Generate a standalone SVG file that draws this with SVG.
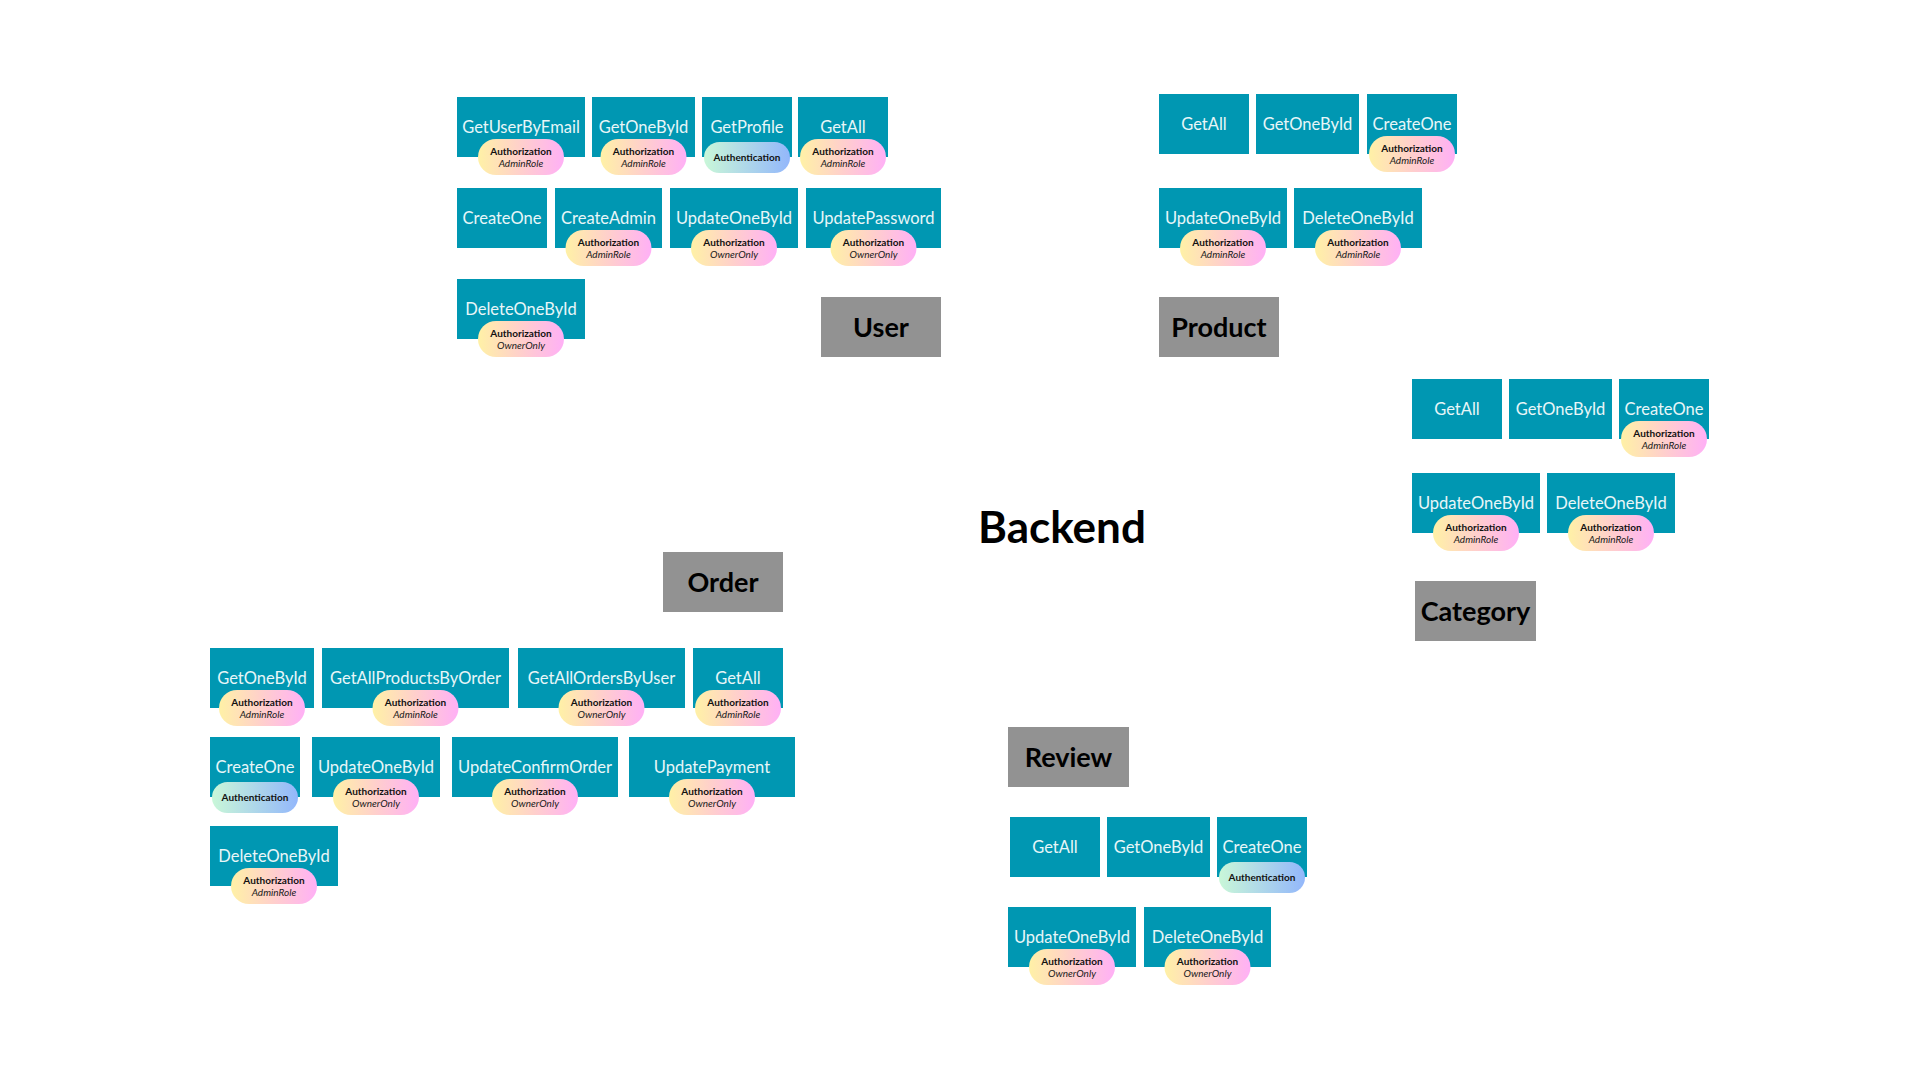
<svg xmlns="http://www.w3.org/2000/svg" width="1920" height="1080" viewBox="0 0 1920 1080">
<defs>
<linearGradient id="gz" x1="0" y1="0" x2="1" y2="0"><stop offset="0" stop-color="#fff1a6"/><stop offset="0.5" stop-color="#ffcfcc"/><stop offset="1" stop-color="#ffb0f6"/></linearGradient>
<linearGradient id="gn" x1="0" y1="0" x2="1" y2="0"><stop offset="0" stop-color="#c9f7d8"/><stop offset="1" stop-color="#93b7fb"/></linearGradient>
<style>
.ep{fill:#0097b2}
.et{font-family:Lato,"Liberation Sans",sans-serif;font-size:16.5px;fill:#e8f6f8;text-anchor:middle}
.lb{fill:#929292}
.lt{font-family:Lato,"Liberation Sans",sans-serif;font-size:27px;font-weight:bold;fill:#000;text-anchor:middle}
.pz{fill:url(#gz)}
.pn{fill:url(#gn)}
.p1{font-family:Lato,"Liberation Sans",sans-serif;font-size:10px;font-weight:bold;fill:#111;text-anchor:middle}
.p2{font-family:Lato,"Liberation Sans",sans-serif;font-size:10px;font-style:italic;fill:#1a1a1a;text-anchor:middle}
.bk{font-family:Lato,"Liberation Sans",sans-serif;font-size:44px;font-weight:bold;fill:#000;text-anchor:middle}
</style>
</defs>
<rect width="1920" height="1080" fill="#fff"/>
<g id="connectors"/>
<g id="backend"><text class="bk" x="1062" y="543">Backend</text></g>

<!-- USER -->
<g id="user"><rect class="lb" x="821" y="297" width="120" height="60"/><text class="lt" x="881" y="337">User</text></g>
<g id="user-getuserbyemail"><rect class="ep" x="457" y="97" width="128" height="60"/><text class="et" x="521" y="133">GetUserByEmail</text><rect class="pz" x="478" y="139" width="86" height="36" rx="18"/><text class="p1" x="521" y="154.5">Authorization</text><text class="p2" x="521" y="166.5">AdminRole</text></g>
<g id="user-getonebyid"><rect class="ep" x="592" y="97" width="103" height="60"/><text class="et" x="643.5" y="133">GetOneById</text><rect class="pz" x="600.5" y="139" width="86" height="36" rx="18"/><text class="p1" x="643.5" y="154.5">Authorization</text><text class="p2" x="643.5" y="166.5">AdminRole</text></g>
<g id="user-getprofile"><rect class="ep" x="702" y="97" width="90" height="60"/><text class="et" x="747" y="133">GetProfile</text><rect class="pn" x="704" y="142" width="86" height="31" rx="15.5"/><text class="p1" x="747" y="161">Authentication</text></g>
<g id="user-getall"><rect class="ep" x="798" y="97" width="90" height="60"/><text class="et" x="843" y="133">GetAll</text><rect class="pz" x="800" y="139" width="86" height="36" rx="18"/><text class="p1" x="843" y="154.5">Authorization</text><text class="p2" x="843" y="166.5">AdminRole</text></g>
<g id="user-createone"><rect class="ep" x="457" y="188" width="90" height="60"/><text class="et" x="502" y="224">CreateOne</text></g>
<g id="user-createadmin"><rect class="ep" x="555" y="188" width="107" height="60"/><text class="et" x="608.5" y="224">CreateAdmin</text><rect class="pz" x="565.5" y="230" width="86" height="36" rx="18"/><text class="p1" x="608.5" y="245.5">Authorization</text><text class="p2" x="608.5" y="257.5">AdminRole</text></g>
<g id="user-updateonebyid"><rect class="ep" x="670" y="188" width="128" height="60"/><text class="et" x="734" y="224">UpdateOneById</text><rect class="pz" x="691" y="230" width="86" height="36" rx="18"/><text class="p1" x="734" y="245.5">Authorization</text><text class="p2" x="734" y="257.5">OwnerOnly</text></g>
<g id="user-updatepassword"><rect class="ep" x="806" y="188" width="135" height="60"/><text class="et" x="873.5" y="224">UpdatePassword</text><rect class="pz" x="830.5" y="230" width="86" height="36" rx="18"/><text class="p1" x="873.5" y="245.5">Authorization</text><text class="p2" x="873.5" y="257.5">OwnerOnly</text></g>
<g id="user-deleteonebyid"><rect class="ep" x="457" y="279" width="128" height="60"/><text class="et" x="521" y="315">DeleteOneById</text><rect class="pz" x="478" y="321" width="86" height="36" rx="18"/><text class="p1" x="521" y="336.5">Authorization</text><text class="p2" x="521" y="348.5">OwnerOnly</text></g>

<!-- PRODUCT -->
<g id="product"><rect class="lb" x="1159" y="297" width="120" height="60"/><text class="lt" x="1219" y="337">Product</text></g>
<g id="product-getall"><rect class="ep" x="1159" y="94" width="90" height="60"/><text class="et" x="1204" y="130">GetAll</text></g>
<g id="product-getonebyid"><rect class="ep" x="1256" y="94" width="103" height="60"/><text class="et" x="1307.5" y="130">GetOneById</text></g>
<g id="product-createone"><rect class="ep" x="1367" y="94" width="90" height="60"/><text class="et" x="1412" y="130">CreateOne</text><rect class="pz" x="1369" y="136" width="86" height="36" rx="18"/><text class="p1" x="1412" y="151.5">Authorization</text><text class="p2" x="1412" y="163.5">AdminRole</text></g>
<g id="product-updateonebyid"><rect class="ep" x="1159" y="188" width="128" height="60"/><text class="et" x="1223" y="224">UpdateOneById</text><rect class="pz" x="1180" y="230" width="86" height="36" rx="18"/><text class="p1" x="1223" y="245.5">Authorization</text><text class="p2" x="1223" y="257.5">AdminRole</text></g>
<g id="product-deleteonebyid"><rect class="ep" x="1294" y="188" width="128" height="60"/><text class="et" x="1358" y="224">DeleteOneById</text><rect class="pz" x="1315" y="230" width="86" height="36" rx="18"/><text class="p1" x="1358" y="245.5">Authorization</text><text class="p2" x="1358" y="257.5">AdminRole</text></g>

<!-- CATEGORY -->
<g id="category"><rect class="lb" x="1415" y="581" width="121" height="60"/><text class="lt" x="1475.5" y="621">Category</text></g>
<g id="category-getall"><rect class="ep" x="1412" y="379" width="90" height="60"/><text class="et" x="1457" y="415">GetAll</text></g>
<g id="category-getonebyid"><rect class="ep" x="1509" y="379" width="103" height="60"/><text class="et" x="1560.5" y="415">GetOneById</text></g>
<g id="category-createone"><rect class="ep" x="1619" y="379" width="90" height="60"/><text class="et" x="1664" y="415">CreateOne</text><rect class="pz" x="1621" y="421" width="86" height="36" rx="18"/><text class="p1" x="1664" y="436.5">Authorization</text><text class="p2" x="1664" y="448.5">AdminRole</text></g>
<g id="category-updateonebyid"><rect class="ep" x="1412" y="473" width="128" height="60"/><text class="et" x="1476" y="509">UpdateOneById</text><rect class="pz" x="1433" y="515" width="86" height="36" rx="18"/><text class="p1" x="1476" y="530.5">Authorization</text><text class="p2" x="1476" y="542.5">AdminRole</text></g>
<g id="category-deleteonebyid"><rect class="ep" x="1547" y="473" width="128" height="60"/><text class="et" x="1611" y="509">DeleteOneById</text><rect class="pz" x="1568" y="515" width="86" height="36" rx="18"/><text class="p1" x="1611" y="530.5">Authorization</text><text class="p2" x="1611" y="542.5">AdminRole</text></g>

<!-- ORDER -->
<g id="order"><rect class="lb" x="663" y="552" width="120" height="60"/><text class="lt" x="723" y="592">Order</text></g>
<g id="order-getonebyid"><rect class="ep" x="210" y="648" width="104" height="60"/><text class="et" x="262" y="684">GetOneById</text><rect class="pz" x="219" y="690" width="86" height="36" rx="18"/><text class="p1" x="262" y="705.5">Authorization</text><text class="p2" x="262" y="717.5">AdminRole</text></g>
<g id="order-getallproductsbyorder"><rect class="ep" x="322" y="648" width="187" height="60"/><text class="et" x="415.5" y="684">GetAllProductsByOrder</text><rect class="pz" x="372.5" y="690" width="86" height="36" rx="18"/><text class="p1" x="415.5" y="705.5">Authorization</text><text class="p2" x="415.5" y="717.5">AdminRole</text></g>
<g id="order-getallordersbyuser"><rect class="ep" x="518" y="648" width="167" height="60"/><text class="et" x="601.5" y="684">GetAllOrdersByUser</text><rect class="pz" x="558.5" y="690" width="86" height="36" rx="18"/><text class="p1" x="601.5" y="705.5">Authorization</text><text class="p2" x="601.5" y="717.5">OwnerOnly</text></g>
<g id="order-getall"><rect class="ep" x="693" y="648" width="90" height="60"/><text class="et" x="738" y="684">GetAll</text><rect class="pz" x="695" y="690" width="86" height="36" rx="18"/><text class="p1" x="738" y="705.5">Authorization</text><text class="p2" x="738" y="717.5">AdminRole</text></g>
<g id="order-createone"><rect class="ep" x="210" y="737" width="90" height="60"/><text class="et" x="255" y="773">CreateOne</text><rect class="pn" x="212" y="782" width="86" height="31" rx="15.5"/><text class="p1" x="255" y="801">Authentication</text></g>
<g id="order-updateonebyid"><rect class="ep" x="312" y="737" width="128" height="60"/><text class="et" x="376" y="773">UpdateOneById</text><rect class="pz" x="333" y="779" width="86" height="36" rx="18"/><text class="p1" x="376" y="794.5">Authorization</text><text class="p2" x="376" y="806.5">OwnerOnly</text></g>
<g id="order-updateconfirmorder"><rect class="ep" x="452" y="737" width="166" height="60"/><text class="et" x="535" y="773">UpdateConfirmOrder</text><rect class="pz" x="492" y="779" width="86" height="36" rx="18"/><text class="p1" x="535" y="794.5">Authorization</text><text class="p2" x="535" y="806.5">OwnerOnly</text></g>
<g id="order-updatepayment"><rect class="ep" x="629" y="737" width="166" height="60"/><text class="et" x="712" y="773">UpdatePayment</text><rect class="pz" x="669" y="779" width="86" height="36" rx="18"/><text class="p1" x="712" y="794.5">Authorization</text><text class="p2" x="712" y="806.5">OwnerOnly</text></g>
<g id="order-deleteonebyid"><rect class="ep" x="210" y="826" width="128" height="60"/><text class="et" x="274" y="862">DeleteOneById</text><rect class="pz" x="231" y="868" width="86" height="36" rx="18"/><text class="p1" x="274" y="883.5">Authorization</text><text class="p2" x="274" y="895.5">AdminRole</text></g>

<!-- REVIEW -->
<g id="review"><rect class="lb" x="1008" y="727" width="121" height="60"/><text class="lt" x="1068.5" y="767">Review</text></g>
<g id="review-getall"><rect class="ep" x="1010" y="817" width="90" height="60"/><text class="et" x="1055" y="853">GetAll</text></g>
<g id="review-getonebyid"><rect class="ep" x="1107" y="817" width="103" height="60"/><text class="et" x="1158.5" y="853">GetOneById</text></g>
<g id="review-createone"><rect class="ep" x="1217" y="817" width="90" height="60"/><text class="et" x="1262" y="853">CreateOne</text><rect class="pn" x="1219" y="862" width="86" height="31" rx="15.5"/><text class="p1" x="1262" y="881">Authentication</text></g>
<g id="review-updateonebyid"><rect class="ep" x="1008" y="907" width="128" height="60"/><text class="et" x="1072" y="943">UpdateOneById</text><rect class="pz" x="1029" y="949" width="86" height="36" rx="18"/><text class="p1" x="1072" y="964.5">Authorization</text><text class="p2" x="1072" y="976.5">OwnerOnly</text></g>
<g id="review-deleteonebyid"><rect class="ep" x="1144" y="907" width="127" height="60"/><text class="et" x="1207.5" y="943">DeleteOneById</text><rect class="pz" x="1164.5" y="949" width="86" height="36" rx="18"/><text class="p1" x="1207.5" y="964.5">Authorization</text><text class="p2" x="1207.5" y="976.5">OwnerOnly</text></g>
</svg>
